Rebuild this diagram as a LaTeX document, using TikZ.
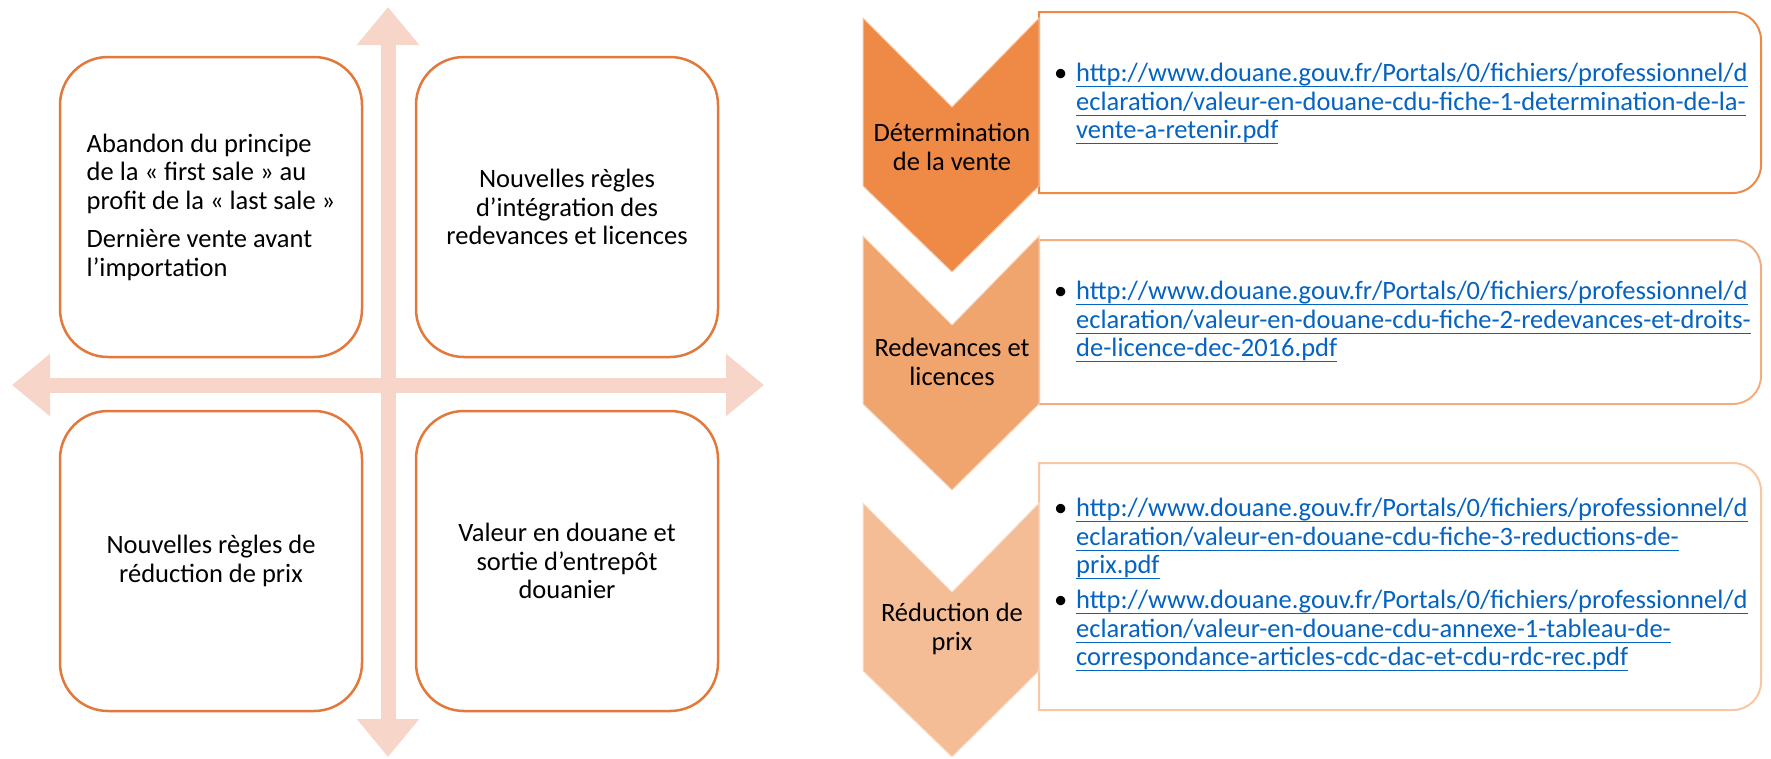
\documentclass[tikz,border=0pt]{standalone}
\usepackage{fontspec}
\setmainfont{Carlito}
\usetikzlibrary{arrows.meta}

\definecolor{peche}{HTML}{F8D5C9}
\definecolor{cadre}{HTML}{E2783A}
\definecolor{orA}{HTML}{EE8946}
\definecolor{orB}{HTML}{F0A46E}
\definecolor{orC}{HTML}{F5BD96}
\definecolor{bordA}{HTML}{EE8946}
\definecolor{bordB}{HTML}{F2AE80}
\definecolor{bordC}{HTML}{F7C6A3}
\definecolor{lienbleu}{HTML}{0563C1}

% souligne une ligne de lien a hauteur fixe
\newcommand\souligne[1]{\setbox0=\hbox{#1}\rlap{\rule[-5.5pt]{\wd0}{1.3pt}}\box0}
\newcommand\puce{\llap{\color{black}\textbullet\hspace{9pt}}}

\begin{document}
\begin{tikzpicture}[x=1pt,y=-1pt,
  every node/.style={font=\fontsize{26.5}{28.5}\selectfont},
  quadrant/.style={draw=cadre, line width=2.5pt, rounded corners=48pt,
    minimum width=302pt, minimum height=300pt},
  axe/.style={peche, line width=15pt,
    {Triangle[width=60pt,length=38pt]}-{Triangle[width=60pt,length=38pt]}},
  etape/.style={align=center},
  lienbloc/.style={anchor=west, align=left, inner sep=0pt, text=lienbleu}]
	\useasboundingbox (0,0) rectangle (1771,758);
	% axes
	\coordinate (haut) at (388,7);
	\coordinate (bas) at (388,757);
	\coordinate (gauche) at (12,385);
	\coordinate (droite) at (764,385);
	\draw[axe] (haut) -- (bas);
	\draw[axe] (gauche) -- (droite);
	% quadrants
	\node[quadrant, align=left] (q1) at (211,207) {Abandon du principe\\de la « first sale » au\\profit de la « last sale »\\[10pt]Dernière vente avant\\l’importation};
	\node[quadrant, align=center] (q2) at (567,207) {Nouvelles règles\\d’intégration des\\redevances et licences};
	\node[quadrant, align=center] (q3) at (211,561) {Nouvelles règles de\\réduction de prix};
	\node[quadrant, align=center] (q4) at (567,561) {Valeur en douane et\\sortie d’entrepôt\\douanier};
	% chevrons et cadres
	\foreach \t/\b/\h/\c/\d in {18/12/193/orA/bordA, 236/240/404/orB/bordB, 503/463/710/orC/bordC} {
		\draw[\d, line width=2pt, fill=white] (1039,\b) -- (1733,\b) arc[start angle=-90,end angle=0,radius=28]
			-- (1761,\h-28) arc[start angle=0,end angle=90,radius=28] -- (1039,\h) -- cycle;
		\filldraw[fill=\c, draw=white!55!\c, line width=1pt] (863,\t) -- (952,\t+89) -- (1039,\t) -- (1039,\t+168)
			-- (952,\t+254) -- (863,\t+168) -- cycle;
	}
	\node[etape] (c1) at (952,147) {Détermination\\de la vente};
	\node[etape] (c2) at (952,362) {Redevances et\\licences};
	\node[etape] (c3) at (952,629) {Réduction de\\prix};
	% liens
	\node[lienbloc] (l1) at (1076,104) {\puce\souligne{http://www.douane.gouv.fr/Portals/0/fichiers/professionnel/d}\\
		\souligne{eclaration/valeur-en-douane-cdu-fiche-1-determination-de-la-}\\
		\souligne{vente-a-retenir.pdf}};
	\node[lienbloc] (l2) at (1076,322) {\puce\souligne{http://www.douane.gouv.fr/Portals/0/fichiers/professionnel/d}\\
		\souligne{eclaration/valeur-en-douane-cdu-fiche-2-redevances-et-droits-}\\
		\souligne{de-licence-dec-2016.pdf}};
	\node[lienbloc] (l3) at (1076,585) {\puce\souligne{http://www.douane.gouv.fr/Portals/0/fichiers/professionnel/d}\\
		\souligne{eclaration/valeur-en-douane-cdu-fiche-3-reductions-de-}\\
		\souligne{prix.pdf}\\[6.5pt]
		\puce\souligne{http://www.douane.gouv.fr/Portals/0/fichiers/professionnel/d}\\
		\souligne{eclaration/valeur-en-douane-cdu-annexe-1-tableau-de-}\\
		\souligne{correspondance-articles-cdc-dac-et-cdu-rdc-rec.pdf}};
\end{tikzpicture}
\end{document}
